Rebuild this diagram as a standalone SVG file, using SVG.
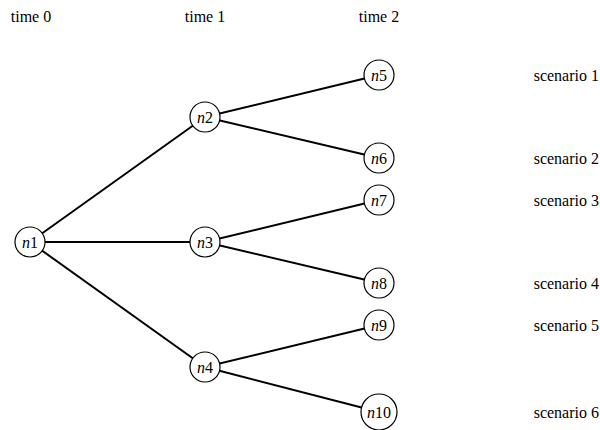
<svg xmlns="http://www.w3.org/2000/svg" width="600" height="430" viewBox="0 0 600 430">
<style>
text{font-family:'Liberation Serif','Times New Roman',serif;font-size:16px;fill:#000}
.lbl{text-anchor:middle}
.sc{text-anchor:end}
.node circle{fill:#fff;stroke:#000;stroke-width:1.2}
.node text{text-anchor:middle;dominant-baseline:central}
#edges line{stroke:#000;stroke-width:2}
</style>
<rect width="600" height="430" fill="#fff"/>
<g id="headers">
<text class="lbl" x="31" y="22">time 0</text>
<text class="lbl" x="205" y="22">time 1</text>
<text class="lbl" x="379" y="22">time 2</text>
</g>
<g id="edges">
<line x1="30" y1="242" x2="205" y2="117"/>
<line x1="30" y1="242" x2="205" y2="242"/>
<line x1="30" y1="242" x2="205" y2="367"/>
<line x1="205" y1="117" x2="379" y2="75"/>
<line x1="205" y1="117" x2="379" y2="158"/>
<line x1="205" y1="242" x2="379" y2="200"/>
<line x1="205" y1="242" x2="379" y2="283"/>
<line x1="205" y1="367" x2="379" y2="325"/>
<line x1="205" y1="367" x2="379" y2="412"/>
</g>
<g id="n1" class="node"><circle cx="30" cy="242" r="15"/><text x="30" y="242"><tspan font-style="italic">n</tspan>1</text></g>
<g id="n2" class="node"><circle cx="205" cy="117" r="15"/><text x="205" y="117"><tspan font-style="italic">n</tspan>2</text></g>
<g id="n3" class="node"><circle cx="205" cy="242" r="15"/><text x="205" y="242"><tspan font-style="italic">n</tspan>3</text></g>
<g id="n4" class="node"><circle cx="205" cy="367" r="15"/><text x="205" y="367"><tspan font-style="italic">n</tspan>4</text></g>
<g id="n5" class="node"><circle cx="379" cy="75" r="15"/><text x="379" y="75"><tspan font-style="italic">n</tspan>5</text></g>
<g id="n6" class="node"><circle cx="379" cy="158" r="15"/><text x="379" y="158"><tspan font-style="italic">n</tspan>6</text></g>
<g id="n7" class="node"><circle cx="379" cy="200" r="15"/><text x="379" y="200"><tspan font-style="italic">n</tspan>7</text></g>
<g id="n8" class="node"><circle cx="379" cy="283" r="15"/><text x="379" y="283"><tspan font-style="italic">n</tspan>8</text></g>
<g id="n9" class="node"><circle cx="379" cy="325" r="15"/><text x="379" y="325"><tspan font-style="italic">n</tspan>9</text></g>
<g id="n10" class="node"><circle cx="379" cy="412" r="18"/><text x="379" y="412"><tspan font-style="italic">n</tspan>10</text></g>
<g id="scenarios">
<text class="sc" x="599" y="81">scenario 1</text>
<text class="sc" x="599" y="164">scenario 2</text>
<text class="sc" x="599" y="206">scenario 3</text>
<text class="sc" x="599" y="289">scenario 4</text>
<text class="sc" x="599" y="331">scenario 5</text>
<text class="sc" x="599" y="418">scenario 6</text>
</g>
</svg>
